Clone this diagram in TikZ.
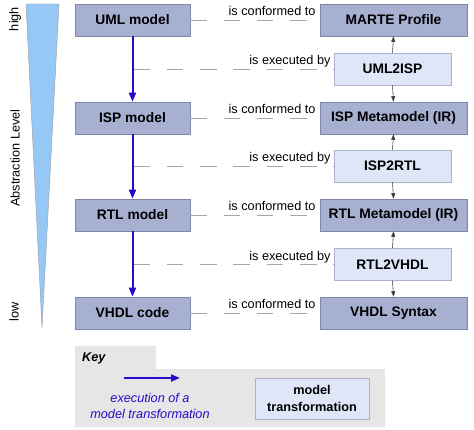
\documentclass[tikz,border=0pt]{standalone}
\usepackage{fontspec}
\setmainfont{Liberation Sans}
\usetikzlibrary{arrows.meta}
\definecolor{darkbox}{RGB}{168,176,210}
\definecolor{darkedge}{RGB}{128,136,170}
\definecolor{lightbox}{RGB}{222,230,248}
\definecolor{lightedge}{RGB}{170,178,200}
\definecolor{arrblue}{RGB}{40,10,200}
\definecolor{tri}{RGB}{150,200,245}
\definecolor{keygray}{RGB}{230,230,230}
\tikzset{
  darkbx/.style={draw=darkedge, fill=darkbox, line width=0.6pt, minimum height=32pt, inner sep=0pt, font=\fontsize{13.8}{15}\selectfont\bfseries},
  leftbx/.style={darkbx, minimum width=115pt},
  metabx/.style={darkbx, minimum width=147pt},
  lightbx/.style={draw=lightedge, fill=lightbox, line width=0.6pt, minimum width=117pt, minimum height=32pt, inner sep=0pt, font=\fontsize{13.8}{15}\selectfont\bfseries},
  exec/.style={draw=arrblue, line width=2pt, -{Triangle[length=9pt,width=7pt]}},
  small/.style={draw=black!75, line width=0.6pt, -{Triangle[length=5.5pt,width=4pt]}},
  rel/.style={draw=gray!70, line width=0.6pt, dash pattern=on 16.5pt off 16.8pt},
  lbl/.style={inner sep=0pt, font=\fontsize{12.7}{14}\selectfont},
}
\begin{document}
\begin{tikzpicture}[x=1pt,y=-1pt]
\useasboundingbox (0,0) rectangle (474,430);
% abstraction triangle
\draw[fill=tri, draw=gray!80, line width=0.4pt] (26,4) -- (59,4) -- (42,328) -- cycle;
\node[lbl, rotate=90] (high) at (15,19) {high};
\node[lbl, rotate=90] (abs) at (15,158) {Abstraction Level};
\node[lbl, rotate=90] (low) at (14,312) {low};
% left models
\node[leftbx] (uml) at (132.5,20) {UML model};
\node[leftbx] (isp) at (132.5,118) {ISP model};
\node[leftbx] (rtl) at (132.5,215) {RTL model};
\node[leftbx] (vhdl) at (132.5,313) {VHDL code};
% right metamodels
\node[metabx] (marte) at (393.5,20) {MARTE Profile};
\node[metabx] (ispm) at (393.5,118) {ISP Metamodel (IR)};
\node[metabx] (rtlm) at (393.5,215) {RTL Metamodel (IR)};
\node[metabx] (vsyn) at (393.5,313) {VHDL Syntax};
% transformations
\node[lightbx] (u2i) at (392.5,69) {UML2ISP};
\node[lightbx] (i2r) at (392.5,166) {ISP2RTL};
\node[lightbx] (r2v) at (392.5,264.5) {RTL2VHDL};
% conformance relations
\foreach \a/\b in {uml/marte, isp/ispm, rtl/rtlm, vhdl/vsyn}{
  \draw[rel] (\a.east) -- (\b.west);
  \node[lbl, anchor=base east] at ([xshift=-4pt,yshift=4pt]\b.west) {is conformed to};
}
% executions
\draw[exec] (uml.south) -- (isp.north);
\draw[exec] (isp.south) -- (rtl.north);
\draw[exec] (rtl.south) -- (vhdl.north);
\foreach \t/\y in {u2i/69, i2r/166, r2v/264.5}{
  \coordinate (s\t) at (133.5,\y);
  \draw[rel] (s\t) -- (\t.west);
  \node[lbl, anchor=base east] at ([xshift=-3pt,yshift=4pt]\t.west) {is executed by};
}
% small arrows
\draw[small] (u2i.north) -- (marte.south);
\draw[small] (u2i.south) -- (ispm.north);
\draw[small] (i2r.north) -- (ispm.south);
\draw[small] (i2r.south) -- (rtlm.north);
\draw[small] (r2v.north) -- (rtlm.south);
\draw[small] (r2v.south) -- (vsyn.north);
% key
\fill[keygray] (75,346) -- (156,346) -- (156,369) -- (385,369) -- (385,427) -- (75,427) -- cycle;
\node[lbl, anchor=west, font=\fontsize{12.7}{14}\selectfont\bfseries\itshape] (key) at (82,358) {Key};
\coordinate (ka) at (124,378);
\coordinate (kb) at (180,378);
\draw[exec] (ka) -- (kb);
\node[lbl, text=arrblue, font=\fontsize{12.7}{16.5}\selectfont\itshape, align=center] (ktxt) at (150,406) {execution of a\\model transformation};
\node[draw=lightedge, fill=lightbox, line width=0.6pt, minimum width=114pt, minimum height=41pt, inner sep=0pt, align=center, font=\fontsize{12.7}{16.5}\selectfont\bfseries] (kbox) at (312,398.5) {model\\transformation};
\end{tikzpicture}
\end{document}
